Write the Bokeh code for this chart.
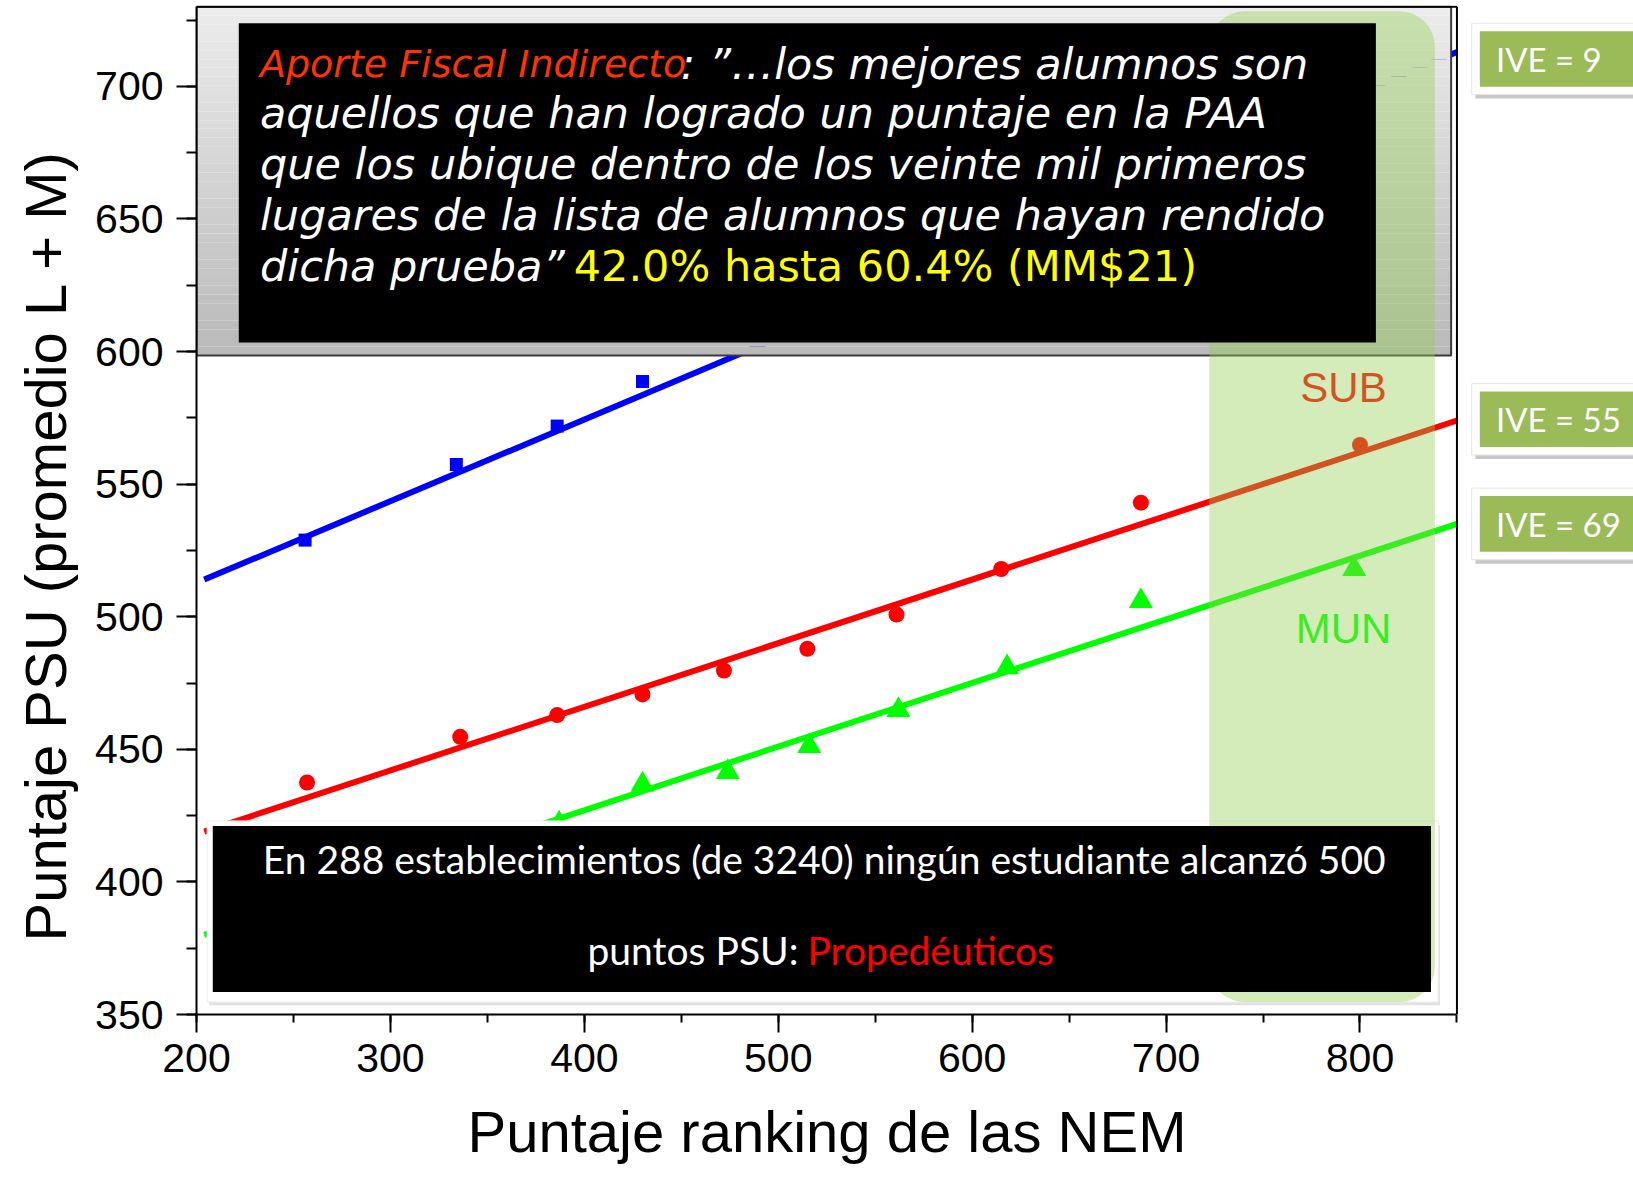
import numpy as np
from bokeh.plotting import figure
from bokeh.models import Range1d, SingleIntervalTicker, BoxAnnotation, Label, Title
from bokeh.embed import file_html
from bokeh.resources import INLINE
from bokeh.core.properties import value

# ---------------- data ----------------
pp_x = [256, 334, 386, 430]
pp_y = [528.9, 557.4, 571.9, 588.7]
sub_x = [257, 336, 386, 430, 472, 515, 561, 615, 687, 800]
sub_y = [437.5, 454.7, 462.9, 470.7, 479.7, 487.9, 500.8, 518.0, 543.0, 564.8]
mun_x = [387, 430, 474, 516, 562, 618, 687, 797]
mun_y = [422.0, 436.7, 441.4, 451.2, 464.8, 480.9, 505.9, 518.0]
fit_x = [204, 850]
pp_fit = [514, 713]
sub_fit = [419, 574]
mun_fit = [380, 535]
ive_labels = ["IVE = 9", "IVE = 55", "IVE = 69"]
group_labels = ["SUB", "MUN"]
x_title = "Puntaje ranking de las NEM"
y_title = "Puntaje PSU (promedio L + M)"

W, H = 1633, 1185
LEFT, TOP, FRAME_H = 195, 5, 1015
XMIN, XMAX = 200, 850
XFRAME = XMIN + (W - LEFT) / 1.9405
YMIN, YMAX = 350, 730

p = figure(width=W, height=H, output_backend="svg", toolbar_location=None,
           x_range=Range1d(XMIN, XFRAME), y_range=Range1d(YMIN, YMAX + 0.5),
           min_border_left=LEFT, min_border_right=0, min_border_top=TOP,
           min_border_bottom=H - TOP - FRAME_H)
p.outline_line_color = None
p.xgrid.visible = False
p.ygrid.visible = False
p.background_fill_color = "white"
p.border_fill_color = "white"

# axes
p.xaxis.ticker = SingleIntervalTicker(interval=100, num_minor_ticks=2)
p.yaxis.ticker = SingleIntervalTicker(interval=50, num_minor_ticks=2)
p.xaxis.bounds = (XMIN, XMAX)
p.yaxis.bounds = (YMIN, YMAX)
for ax in (p.xaxis[0], p.yaxis[0]):
    ax.axis_line_width = 2
    ax.axis_line_color = "black"
    ax.major_tick_line_width = 2
    ax.minor_tick_line_width = 2
    ax.major_tick_in = 0
    ax.minor_tick_in = 0
    ax.major_label_text_font = "Liberation Sans"
    ax.major_label_text_font_size = "41px"
    ax.major_label_text_color = "black"
p.xaxis.major_tick_out = 18
p.xaxis.minor_tick_out = 8
p.yaxis.major_tick_out = 20
p.yaxis.minor_tick_out = 10
p.xaxis.major_label_standoff = 11
p.yaxis.major_label_standoff = 13

# axis titles (as side titles, since the frame extends beyond the axes)
p.add_layout(Title(text=x_title, align="left", offset=271, standoff=44,
                   text_line_height=0.8,
                   text_font="Liberation Sans", text_font_size="58px",
                   text_font_style="normal", text_color="black"), "below")
p.add_layout(Title(text=y_title, align="left", offset=73, standoff=25,
                   vertical_align="top",
                   text_font="Liberation Sans", text_font_size="58px",
                   text_font_style="normal", text_color="black"), "left")

# fitted lines and points
p.line(fit_x, pp_fit, line_color="#0000FF", line_width=6)
p.line(fit_x, sub_fit, line_color="#FF0000", line_width=6)
p.line(fit_x, mun_fit, line_color="#00FF00", line_width=6)
p.scatter(pp_x, pp_y, marker="square", size=13, fill_color="#0000FF", line_color=None)
p.scatter(sub_x, sub_y, marker="circle", size=16, fill_color="#FF0000", line_color=None)
p.scatter(mun_x, mun_y, marker="triangle", size=24, fill_color="#00FF00", line_color=None)

# group labels (under the green band)
p.text(x=[791.5], y=[586.5], text=[group_labels[0]], text_color="#FF0000",
       text_font=value("Liberation Sans"), text_font_size="42px", text_align="center",
       text_baseline="middle")
p.text(x=[791.5], y=[495.4], text=[group_labels[1]], text_color="#00FF00",
       text_font=value("Liberation Sans"), text_font_size="42px", text_align="center",
       text_baseline="middle")

# top grey gradient frame
n = 40
ys = np.linspace(598.5, YMAX, n + 1)
t = np.linspace(0, 1, n)
cols = ["#%02x%02x%02x" % ((int(186 + 50 * v),) * 3) for v in t]
p.quad(left=XMIN, right=847, bottom=ys[:-1], top=ys[1:], fill_color=cols, line_color=None)
p.quad(left=[XMIN], right=[847], bottom=[598.5], top=[YMAX], fill_color=None,
       line_color="#3a3a3a", line_width=2)

# plot frame top / right border
p.line([XMIN, XMAX], [YMAX, YMAX], line_color="black", line_width=2)
p.line([XMAX, XMAX], [YMIN, YMAX], line_color="black", line_width=2)

# bottom white frame with shadow
p.quad(left=[206.5], right=[841.3], bottom=[353.5], top=[421.5], fill_color="#cfcfcf",
       fill_alpha=0.6, line_color=None)
p.quad(left=[205.5], right=[840.3], bottom=[354.7], top=[423.0], fill_color="white",
       line_color="#eeeeee")

# IVE boxes at the right
ive_tops = [720.8, 584.9, 545.5]
ive_bots = [699.9, 564.0, 524.5]
for tp, bt, lab in zip(ive_tops, ive_bots, ive_labels):
    p.quad(left=[859.5], right=[XFRAME + 5], bottom=[bt - 4.5], top=[tp + 2.5],
           fill_color="#c8c8c8", line_color=None)
    p.quad(left=[857.6], right=[XFRAME + 5], bottom=[bt - 3.0], top=[tp + 3.0],
           fill_color="white", line_color="#e6e6e6")
    p.quad(left=[861.8], right=[XFRAME + 5], bottom=[bt], top=[tp],
           fill_color="#9BBB59", line_color=None)
    p.text(x=[870.1], y=[(tp + bt) / 2], text=[lab], text_color="white",
           text_font=value("Lato"), text_font_size="33px", text_baseline="middle")

# green band
p.add_layout(BoxAnnotation(left=722.3, right=838.6, bottom=354.7, top=728.3,
                           fill_color="#92D050", fill_alpha=0.4, line_color=None,
                           border_radius=35))

# black boxes
p.add_layout(BoxAnnotation(left=221.8, right=808.2, bottom=603.4, top=723.8,
                           fill_color="black", fill_alpha=1, line_color=None))
p.add_layout(BoxAnnotation(left=208.4, right=836.6, bottom=358.5, top=421.1,
                           fill_color="black", fill_alpha=1, line_color=None))

# top quote text
TF = "DejaVu Sans"
def lab(x, y, text, color, style="italic", size="43px"):
    p.add_layout(Label(x=x, y=y, text=text, text_color=color, text_font=TF,
                       text_font_size=size, text_font_style=style, text_align="left",
                       text_baseline="middle"))

lab(232.7, 708.6, "Aporte Fiscal Indirecto", "#FF3300", size="38px")
lab(449.7, 708.6, ": \u201d\u2026los mejores alumnos son", "white")
lab(232.7, 689.9, "aquellos que han logrado un puntaje en la PAA", "white")
lab(232.7, 670.8, "que los ubique dentro de los veinte mil primeros", "white")
lab(232.7, 651.6, "lugares de la lista de alumnos que hayan rendido", "white")
lab(232.7, 632.4, "dicha prueba\u201d", "white")
lab(394.5, 632.4, "42.0% hasta 60.4% (MM$21)", "#FFFF00", style="normal")

# bottom text
BF = "Lato"
p.add_layout(Label(x=523.7, y=408.7, text="En 288 establecimientos (de 3240) ningún estudiante alcanzó 500",
                   text_color="white", text_font=BF, text_font_size="39px",
                   text_align="center", text_baseline="middle"))
p.add_layout(Label(x=512.5, x_offset=-4, y=374.2, text="puntos PSU:", text_color="white",
                   text_font=BF, text_font_size="39px", text_align="right",
                   text_baseline="middle"))
p.add_layout(Label(x=512.5, x_offset=5, y=374.2, text="Propedéuticos", text_color="#FF0000",
                   text_font=BF, text_font_size="39px", text_align="left",
                   text_baseline="middle"))

open("out.html", "w").write(file_html(p, INLINE))
